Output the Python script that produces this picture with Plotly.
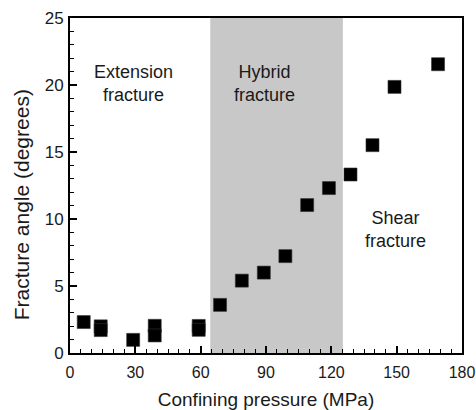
import plotly.graph_objects as go

# Data
pressure = [6.3, 14.1, 14.1, 29.0, 38.9, 38.9, 59.1, 59.1, 68.9, 78.9, 89.0, 98.9,
            108.9, 118.9, 128.8, 138.9, 149.0, 169.0]
angle = [2.31, 1.99, 1.71, 0.98, 2.03, 1.31, 2.02, 1.73, 3.59, 5.40, 6.00, 7.23,
         11.04, 12.31, 13.32, 15.51, 19.86, 21.55]

hybrid_range = [64.4, 125.3]

region_labels = [
    ("Extension<br>fracture", 29.3, 20.14),
    ("Hybrid<br>fracture", 89.3, 20.14),
    ("Shear<br>fracture", 149.6, 9.18),
]

x_ticks = [0, 30, 60, 90, 120, 150, 180]
y_ticks = [0, 5, 10, 15, 20, 25]

FONT = "Liberation Sans, Arial, Helvetica, sans-serif"
TXT = "#1a1a1a"

W, H = 476, 410
ML, MR, MT, MB = 70, 14, 18, 56.5
plot_w = W - ML - MR
plot_h = H - MT - MB

fig = go.Figure()
fig.add_trace(go.Scatter(
    x=pressure, y=angle, mode="markers",
    marker=dict(symbol="square", size=13, color="black",
                line=dict(width=0.6, color="#333")),
    showlegend=False, cliponaxis=False,
))

fig.add_shape(type="rect", xref="x", yref="paper",
              x0=hybrid_range[0], x1=hybrid_range[1], y0=0, y1=1,
              fillcolor="rgb(200,200,200)", line=dict(width=0), layer="below")

for txt, xv, yv in region_labels:
    fig.add_annotation(x=xv, y=yv, xref="x", yref="y", text=txt, showarrow=False,
                       font=dict(family=FONT, size=18, color=TXT),
                       xanchor="center", yanchor="middle")

fig.add_annotation(x=(21.5 - ML) / plot_w, y=(H - MB - 205) / plot_h,
                   xref="paper", yref="paper", text="Fracture angle (degrees)",
                   showarrow=False, textangle=-90,
                   font=dict(family=FONT, size=21, color=TXT),
                   xanchor="center", yanchor="middle")

axis_common = dict(
    showline=True, linecolor="black", linewidth=2, mirror=True,
    ticks="inside", ticklen=7, tickwidth=1.5, tickcolor="black",
    showgrid=False, zeroline=False, automargin=False,
)

fig.update_xaxes(range=[0, 180], tickvals=x_ticks,
                 tickfont=dict(family=FONT, size=16, color=TXT),
                 minor=dict(dtick=5, ticks="inside", ticklen=4, tickwidth=1, tickcolor="black"),
                 title=dict(text="Confining pressure (MPa)", font=dict(family=FONT, size=19, color=TXT),
                            standoff=14),
                 ticklabelstandoff=4,
                 **axis_common)
fig.update_yaxes(range=[0, 25], tickvals=y_ticks,
                 tickfont=dict(family=FONT, size=17, color=TXT),
                 minor=dict(dtick=1, ticks="inside", ticklen=4, tickwidth=1, tickcolor="black"),
                 ticklabelstandoff=1,
                 **axis_common)

fig.update_layout(
    width=W, height=H,
    margin=dict(l=ML, r=MR, t=MT, b=MB),
    paper_bgcolor="white", plot_bgcolor="white",
)

fig.write_html("out.html", config={"displayModeBar": False},
               post_script="document.body.style.margin='0';document.body.style.padding='0';")
